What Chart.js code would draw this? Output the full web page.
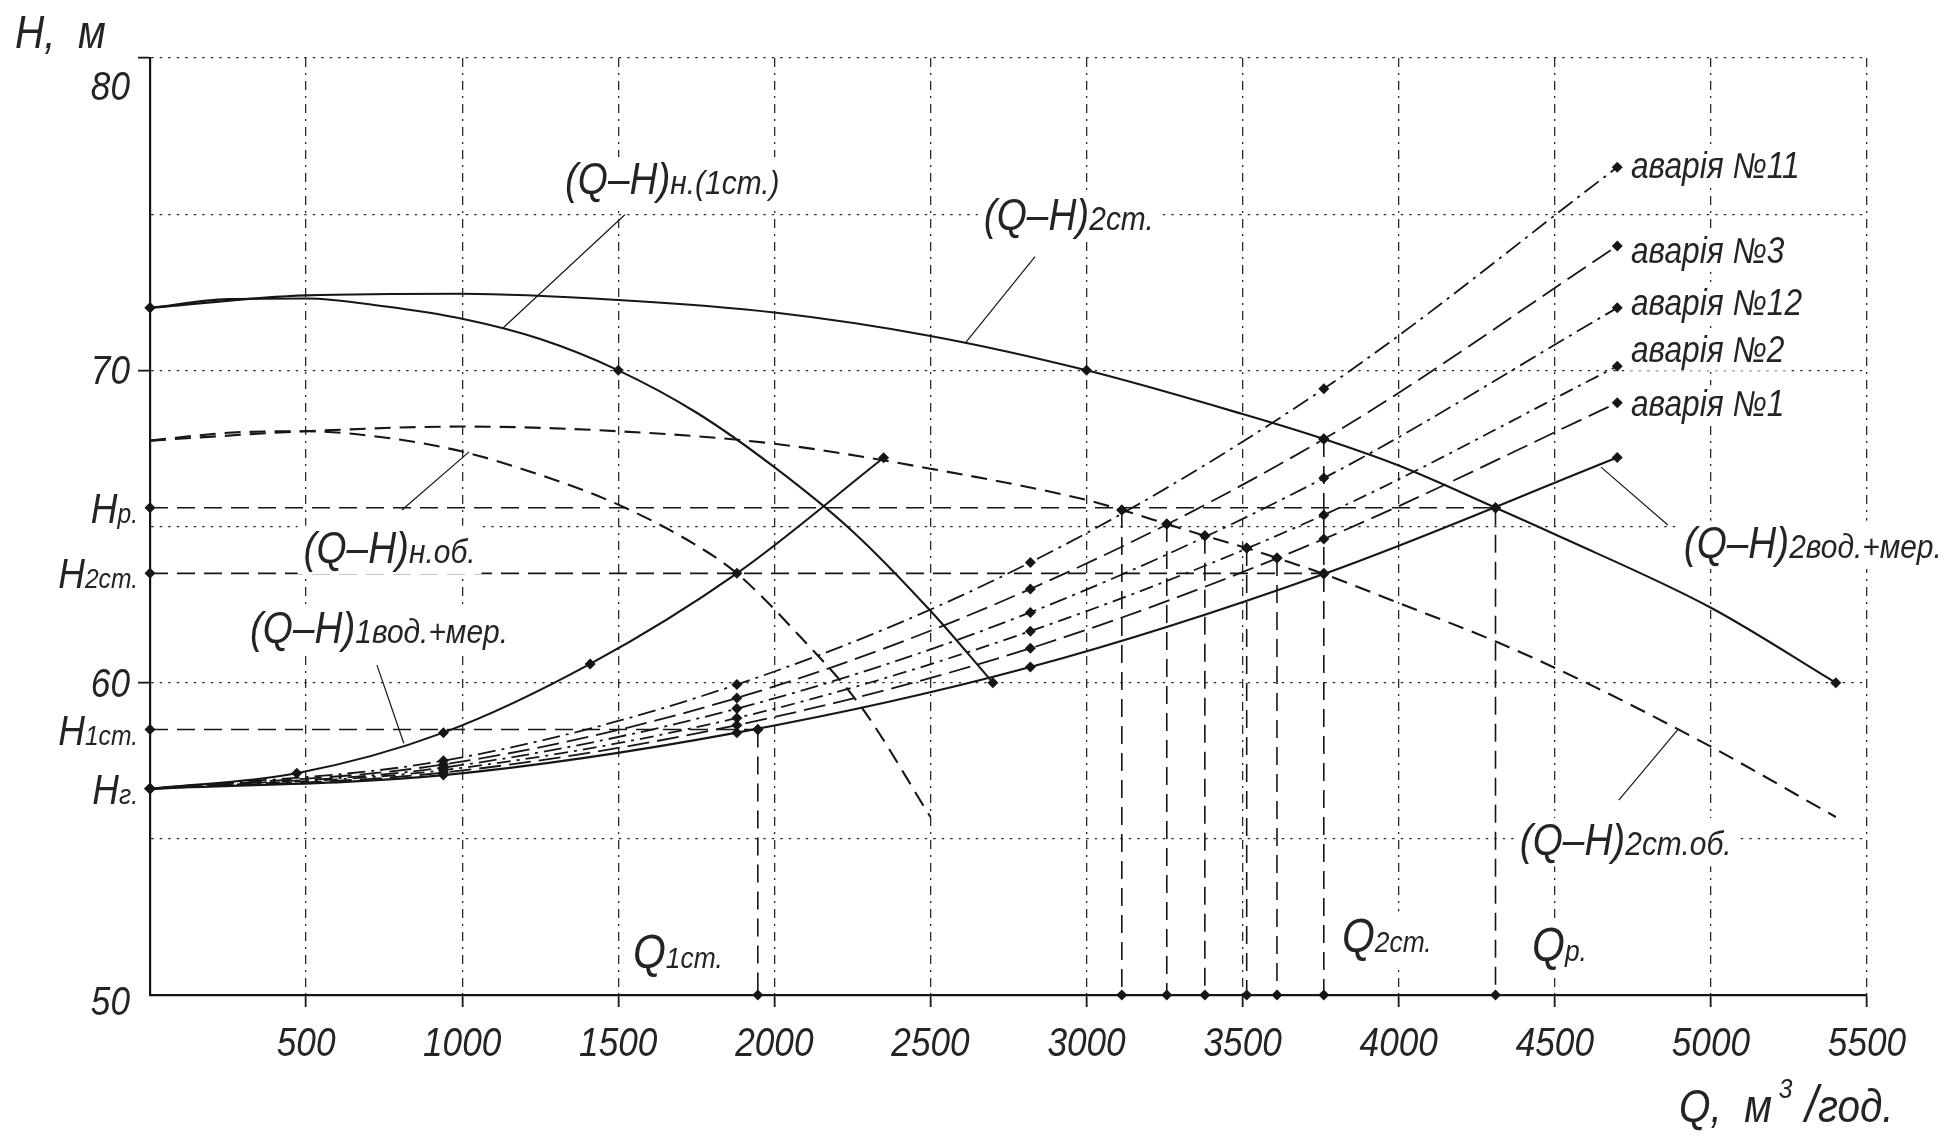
<!DOCTYPE html>
<html>
<head>
<meta charset="utf-8">
<script src="https://cdn.jsdelivr.net/npm/chart.js@4.4.1/dist/chart.umd.min.js"></script>
<style>
  html, body { margin: 0; padding: 0; background: #fff; }
  canvas { display: block; }
</style>
</head>
<body>
<canvas id="qhChart" width="1959" height="1136"></canvas>
<script>
// --- характеристики насосів ---
const pump1Q = [0, 250, 500, 750, 1000, 1250, 1500, 1750, 2000, 2250, 2500, 2700];
const pump1H = [72.0, 72.28, 72.3, 72.05, 71.65, 71.0, 70.0, 68.65, 66.9, 64.85, 62.3, 60.0];
const pump2Q = [0, 500, 1000, 1500, 2000, 2500, 3000, 3500, 3760, 4000, 4310, 4500, 5000, 5400];
const pump2H = [72.0, 72.4, 72.45, 72.25, 71.85, 71.1, 70.0, 68.6, 67.8, 66.95, 65.6, 64.75, 62.4, 60.0];
// обточені колеса
const pumpRedQ = [0, 250, 500, 750, 1000, 1250, 1500, 1750, 1880, 2080, 2280, 2500];
const pumpRedH = [67.75, 68.0, 68.05, 67.85, 67.4, 66.65, 65.7, 64.4, 63.5, 61.5, 59.2, 55.7];
const pump2RedQ = [0, 500, 1000, 1500, 2000, 2500, 3000, 3113, 3257, 3379, 3513, 3610, 3760, 4000, 4315, 4600, 5000, 5400];
const pump2RedH = [67.75, 68.05, 68.2, 68.05, 67.65, 66.85, 65.85, 65.53, 65.08, 64.7, 64.31, 63.99, 63.48, 62.55, 61.3, 60.0, 57.95, 55.7];

// --- характеристики водоводів ---
const pipe1Q = [0, 470, 940, 1410, 1880, 2350];
const pipe1H = [56.6, 57.1, 58.4, 60.6, 63.5, 67.2];
const pipeQ = [0, 940, 1880, 2820, 3760, 4700];
const pipe2H = [56.6, 57.04, 58.4, 60.5, 63.48, 67.21];
const crash1H = [56.6, 57.12, 58.64, 61.1, 64.6, 68.96];
const crash2H = [56.6, 57.2, 58.87, 61.65, 65.37, 70.13];
const crash12H = [56.6, 57.28, 59.17, 62.25, 66.55, 72.0];
const crash3H = [56.6, 57.38, 59.51, 63.0, 67.8, 73.98];
const crash11H = [56.6, 57.5, 59.94, 63.85, 69.41, 76.5];

// --- робочі точки ---
const H_r = 65.6, H_2st = 63.5, H_1st = 58.5, H_g = 56.6;
const Q_1st = 1947, Q_2st = 3760, Q_r = 4310;
const Q_2st_top = 67.8;
// перетини (Q-H)2ст.об. з аварійними характеристиками
const crashCrossQ = [3113, 3257, 3379, 3513, 3610];
const crashCrossH = [65.53, 65.08, 64.7, 64.31, 63.99];

// --- підписи осей ---
const xTicks = [500, 1000, 1500, 2000, 2500, 3000, 3500, 4000, 4500, 5000, 5500];
const yTicks = [80, 70, 60, 50];
const headNames = [['H', 'р.'], ['H', '2ст.'], ['H', '1ст.'], ['H', 'г.']];
const headValues = [H_r, H_2st, H_1st, H_g];
const crashNames = ['аварія №11', 'аварія №3', 'аварія №12', 'аварія №2', 'аварія №1'];

// розміщення підписів (у координатах графіка)
const curveLabels = [
  { q: 1329, h: 75.63, sub: 'н.(1ст.)', lead: [[1129, 71.34], [1521, 74.98]] },
  { q: 2671, h: 74.5, sub: '2ст.', lead: [[2614, 70.9], [2835, 73.64]] },
  { q: 492, h: 63.83, sub: 'н.об.', lead: [[807, 65.53], [1022, 67.39]] },
  { q: 320, h: 61.27, sub: '1вод.+мер.', lead: [[727, 60.56], [813, 58.06]] },
  { q: 4913, h: 63.99, sub: '2вод.+мер.', lead: [[4648, 66.9], [4862, 65.05]] },
  { q: 4388, h: 54.47, sub: '2ст.об.', lead: [[4894, 58.5], [4705, 56.24]] }
];
const crashLabelQ = 4744;
const crashLabelH = [76.16, 73.44, 71.78, 70.28, 68.54];
const qLabels = [
  { q: 1547, h: 50.85, sub: '1ст.' },
  { q: 3818, h: 51.37, sub: '2ст.' },
  { q: 4427, h: 51.1, sub: 'р.' }
];

const FONT = '"Liberation Sans", Arial, sans-serif';
const INK = '#161616';
const TEXT = '#242424';
const SQ = 0.88;
const MARK = 5.5;

function xy(qs, hs) { return qs.map((q, i) => ({ x: q, y: hs[i] })); }

function curve(qs, hs, dash, marks, width) {
  return {
    data: xy(qs, hs),
    showLine: true,
    borderColor: INK,
    backgroundColor: INK,
    borderWidth: width || 2.1,
    borderDash: dash || [],
    cubicInterpolationMode: 'monotone',
    pointStyle: 'rectRot',
    pointRadius: c => (marks && c.raw && marks.includes(c.raw.x)) ? MARK : 0,
    pointBorderWidth: 0,
    clip: false
  };
}

function helper(points) {
  return {
    data: points,
    showLine: true,
    borderColor: INK,
    backgroundColor: INK,
    borderWidth: 1.6,
    borderDash: [18, 9],
    pointStyle: 'rectRot',
    pointRadius: MARK,
    pointBorderWidth: 0,
    clip: false
  };
}

const dashDot = [18, 6, 3, 6];
const longDash = [22, 8];

const datasets = [
  curve(pump1Q, pump1H, [], [0, 1500, 2700]),
  curve(pump2Q, pump2H, [], [0, 3000, 3760, 4310, 5400]),
  curve(pumpRedQ, pumpRedH, [16, 9], []),
  curve(pump2RedQ, pump2RedH, [16, 9], crashCrossQ),
  curve(pipe1Q, pipe1H, [], pipe1Q),
  curve(pipeQ, pipe2H, [], pipeQ),
  curve(pipeQ, crash1H, longDash, pipeQ, 1.8),
  curve(pipeQ, crash2H, [14, 6, 3, 6], pipeQ, 1.8),
  curve(pipeQ, crash12H, dashDot, pipeQ, 1.8),
  curve(pipeQ, crash3H, longDash, pipeQ, 1.8),
  curve(pipeQ, crash11H, dashDot, pipeQ, 1.8),
  helper([{ x: 0, y: H_r }, { x: Q_r, y: H_r }]),
  helper([{ x: 0, y: H_2st }, { x: Q_2st, y: H_2st }]),
  helper([{ x: 0, y: H_1st }, { x: Q_1st, y: H_1st }]),
  helper([{ x: 0, y: H_g }]),
  helper([{ x: Q_1st, y: H_1st }, { x: Q_1st, y: 50 }]),
  helper([{ x: Q_2st, y: Q_2st_top }, { x: Q_2st, y: 50 }]),
  helper([{ x: Q_r, y: H_r }, { x: Q_r, y: 50 }])
];
crashCrossQ.forEach((q, i) => datasets.push(helper([{ x: q, y: crashCrossH[i] }, { x: q, y: 50 }])));

function partsWidth(ctx, parts) {
  let w = 0;
  parts.forEach(p => { ctx.font = 'italic ' + p[1] + 'px ' + FONT; w += ctx.measureText(p[0]).width; });
  return w * SQ;
}

function drawRich(ctx, x, y, parts, align) {
  const total = partsWidth(ctx, parts);
  ctx.save();
  ctx.translate(x, y);
  ctx.scale(SQ, 1);
  let cx = align === 'right' ? -total / SQ : align === 'center' ? -total / SQ / 2 : 0;
  parts.forEach(p => {
    ctx.font = 'italic ' + p[1] + 'px ' + FONT;
    ctx.fillText(p[0], cx, p[2] || 0);
    cx += ctx.measureText(p[0]).width;
  });
  ctx.restore();
  return total;
}

function backed(ctx, x, y, parts, size) {
  const w = partsWidth(ctx, parts);
  ctx.fillStyle = '#fff';
  ctx.fillRect(x - 6, y - size * 0.85, w + 12, size * 1.1);
  ctx.fillStyle = TEXT;
  drawRich(ctx, x, y, parts, 'left');
}

const overlay = {
  id: 'overlay',
  afterDatasetsDraw(chart) {
    const { ctx, chartArea: area } = chart;
    const sx = chart.scales.x, sy = chart.scales.y;
    const px = q => sx.getPixelForValue(q), py = h => sy.getPixelForValue(h);
    ctx.save();
    ctx.textBaseline = 'alphabetic';
    ctx.textAlign = 'left';
    ctx.fillStyle = TEXT;
    ctx.strokeStyle = INK;

    curveLabels.forEach(l => {
      backed(ctx, px(l.q), py(l.h), [['(Q–H)', 44], [l.sub, 34]], 44);
      ctx.lineWidth = 1.2;
      ctx.beginPath();
      ctx.moveTo(px(l.lead[0][0]), py(l.lead[0][1]));
      ctx.lineTo(px(l.lead[1][0]), py(l.lead[1][1]));
      ctx.stroke();
    });

    crashNames.forEach((t, i) => backed(ctx, px(crashLabelQ), py(crashLabelH[i]), [[t, 36]], 36));

    qLabels.forEach(l => backed(ctx, px(l.q), py(l.h), [['Q', 48], [l.sub, 30]], 48));

    // підписи шкал
    ctx.fillStyle = TEXT;
    xTicks.forEach(v => drawRich(ctx, px(v), area.bottom + 61, [[String(v), 40]], 'center'));
    const yShift = { 80: 28, 50: 6 };
    yTicks.forEach(v => drawRich(ctx, area.left - 20, py(v) + 14 + (yShift[v] || 0), [[String(v), 40]], 'right'));
    headNames.forEach((n, i) => drawRich(ctx, area.left - 12, py(headValues[i]) + 15, [[n[0], 42], [n[1], 28]], 'right'));

    // назви осей
    drawRich(ctx, 15, 48, [['H,  м', 46]], 'left');
    drawRich(ctx, 1679, 1122, [['Q,  м', 46], [' 3', 28, -24], [' /', 52], ['год.', 46]], 'left');
    ctx.restore();
  }
};

new Chart(document.getElementById('qhChart'), {
  type: 'scatter',
  data: { datasets: datasets },
  options: {
    responsive: false,
    animation: false,
    events: [],
    layout: { padding: { left: 138, top: 58, right: 92, bottom: 129 } },
    plugins: { legend: { display: false }, tooltip: { enabled: false } },
    scales: {
      x: {
        type: 'linear', min: 0, max: 5500,
        ticks: { stepSize: 500, display: false },
        grid: {
          color: '#2a2a2a', lineWidth: 1.3, tickLength: 12, tickWidth: 1.8,
          tickColor: c => (c.tick && c.tick.value > 0) ? INK : 'rgba(0,0,0,0)'
        },
        border: { display: true, color: INK, width: 2.2, dash: [9, 6, 2, 6] }
      },
      y: {
        type: 'linear', min: 50, max: 80,
        ticks: { stepSize: 5, display: false },
        grid: {
          color: '#2a2a2a', lineWidth: 1.3, tickLength: 12, tickWidth: 1.8,
          tickColor: c => (c.tick && c.tick.value > 50 && c.tick.value % 10 === 0) ? INK : 'rgba(0,0,0,0)'
        },
        border: { display: true, color: INK, width: 2.2, dash: [2.5, 6] }
      }
    }
  },
  plugins: [overlay]
});
</script>
</body>
</html>
